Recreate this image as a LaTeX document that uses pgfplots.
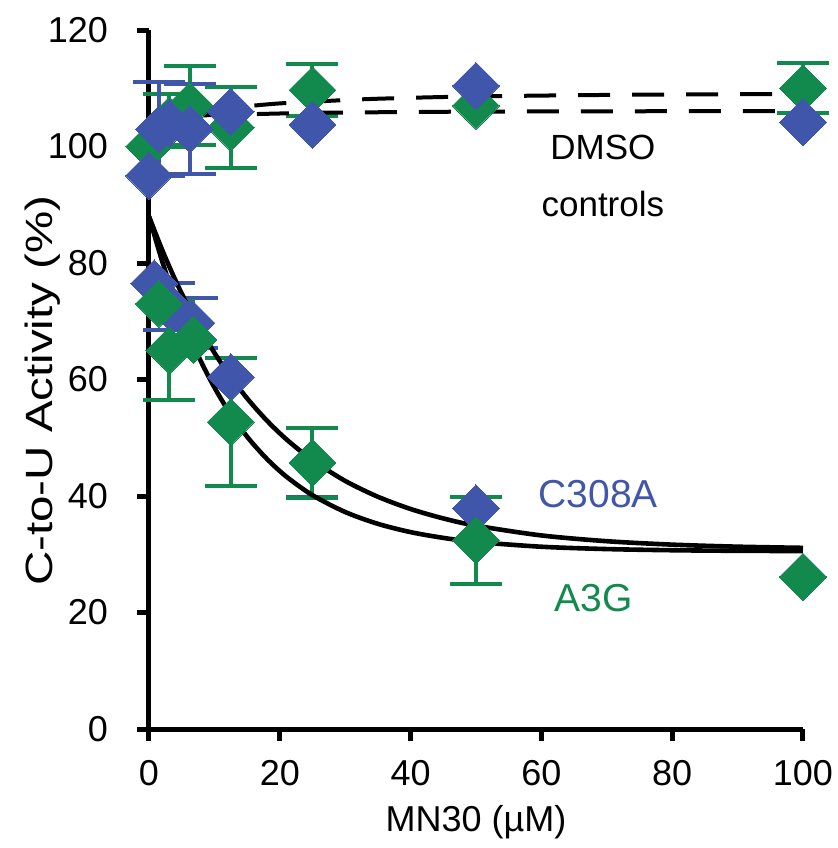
\documentclass[border=0pt]{standalone}
\usepackage{fontspec}
\setmainfont{Liberation Sans}
\usepackage{pgfplots}
\usepackage{pgfplotstable}
\pgfplotsset{compat=1.18}

\definecolor{cblue}{RGB}{64,86,170}
\definecolor{cgreen}{RGB}{18,138,78}

% DMSO controls: x (uM), activity (%), s.d. (rows with a visible s.d. only in *Err)
\pgfplotstableread{
x     y
0     100
1.56  103
3.125 104.5
6.25  107
12.5  103.3
25    109.7
50    107
100   110
}\dmsoGreen
\pgfplotstableread{
x     y      e
3.125 104.5  4.5
6.25  107    6.8
12.5  103.3  7
25    109.7  4.4
100   110    4.3
}\dmsoGreenErr
\pgfplotstableread{
x     y
0     95
1.56  103
3.125 104
6.25  103
12.5  106
25    103.7
50    110.4
100   104.2
}\dmsoBlue
\pgfplotstableread{
x     y      e
1.56  103    8
6.25  103    7.8
}\dmsoBlueErr
% MN30 titration
\pgfplotstableread{
x     y
0.8   76.5
3.125 72.5
6.5   69.7
12.5  60.4
25    45.7
50    37.9
100   26.1
}\mnBlue
\pgfplotstableread{
x     y      e
3.125 72.5   4
6.5   69.7   4.3
25    45.7   5.9
}\mnBlueErr
\pgfplotstableread{
x     y
1.5   73
3.125 65
6.8   66.8
12.5  52.7
25    45.7
50    32.4
100   26.1
}\mnGreen
\pgfplotstableread{
x     y      e
3.125 65     8.5
12.5  52.7   11
25    45.7   6
50    32.4   7.5
}\mnGreenErr

\pgfplotsset{
  diam/.style={only marks, mark=square*, mark size=8.3pt,
    mark options={rotate=45, draw=#1, fill=#1, line width=0pt}},
  ebar/.style={draw=none, mark=none, forget plot,
    error bars/.cd, y dir=both, y explicit,
    error bar style={line width=2pt, #1},
    error mark options={line width=2pt, mark size=13pt, rotate=90, #1}},
}

\begin{document}
\begin{tikzpicture}
\begin{axis}[
  scale only axis, width=327pt, height=349.5pt,
  xmin=0, xmax=100, ymin=0, ymax=120,
  axis lines=left, axis line style={-, line width=2.5pt},
  xtick={0,20,...,100}, ytick={0,20,...,120},
  tick align=outside, major tick length=6pt,
  tick style={line width=2.5pt, black},
  clip=false,
  /pgf/number format/assume math mode=true,
  ticklabel style={font=\fontsize{18}{20}\selectfont},
  yticklabel style={xshift=-11pt},
  xticklabel style={yshift=-6pt},
  xlabel={MN30 (µM)},
  xlabel style={font=\fontsize{18}{20}\selectfont,
    at={(axis description cs:0.5,-0.147)}, anchor=base},
  ylabel={C-to-U Activity (\%)},
  ylabel style={font=\fontsize{19}{21}\selectfont, xscale=1.25,
    at={(axis description cs:-0.148,0.484)}, anchor=base},
]
% DMSO controls
\addplot[ebar=cgreen] table[x=x, y=y, y error=e] {\dmsoGreenErr};
\addplot[diam=cgreen] table[x=x, y=y] {\dmsoGreen};
\addplot[ebar=cblue] table[x=x, y=y, y error=e] {\dmsoBlueErr};
\addplot[diam=cblue] table[x=x, y=y] {\dmsoBlue};
% MN30 series
\addplot[ebar=cblue] table[x=x, y=y, y error=e] {\mnBlueErr};
\addplot[diam=cblue] table[x=x, y=y] {\mnBlue};
\addplot[ebar=cgreen] table[x=x, y=y, y error=e] {\mnGreenErr};
\addplot[diam=cgreen] table[x=x, y=y] {\mnGreen};

% fitted curves
\addplot[black, line width=2.3pt, smooth] coordinates {
(0,88.0) (2,80.35) (4,73.71) (6,67.96) (8,62.97) (10,58.65) (12,54.90)
(15,50.19) (18,46.40) (21,43.33) (25,40.14) (30,37.25) (35,35.22)
(40,33.80) (45,32.81) (50,32.12) (60,31.29) (70,30.89) (80,30.69)
(90,30.59) (100,30.55)};
\addplot[black, line width=2.3pt, smooth] coordinates {
(0,88.0) (2,82.29) (4,77.14) (6,72.51) (8,68.35) (10,64.59) (12,61.22)
(15,56.77) (18,52.98) (21,49.74) (25,46.15) (30,42.59) (35,39.87)
(40,37.77) (45,36.15) (50,34.91) (60,33.23) (70,32.24) (80,31.65)
(90,31.30) (100,31.10)};
\addplot[black, line width=2pt, dash pattern=on 16pt off 11pt, smooth] coordinates {
(0,103.2) (3,104.3) (6,105.2) (10,106.1) (15,106.9) (20,107.4) (25,107.7)
(35,108.2) (50,108.6) (75,108.9) (100,109)};
\addplot[black, line width=2pt, dash pattern=on 16pt off 11pt] coordinates {
(0,105.1) (10,105.4) (25,105.8) (50,106) (100,106.1)};

\node[anchor=base, font=\fontsize{17.5}{20}\selectfont] at (axis cs:69.4,97.7) {DMSO};
\node[anchor=base, font=\fontsize{17.5}{20}\selectfont] at (axis cs:69.4,87.9) {controls};
\node[anchor=base, text=cblue, font=\fontsize{19.5}{22}\selectfont] at (axis cs:68.7,38.1) {C308A};
\node[anchor=base, text=cgreen, font=\fontsize{19.5}{22}\selectfont] at (axis cs:68,20.1) {A3G};

\coordinate (O) at (axis cs:0,0);
\end{axis}
\pgfresetboundingbox
\path[use as bounding box] ([shift={(-74.5pt,-59.5pt)}]O) rectangle ([shift={(344.5pt,364.5pt)}]O);
\end{tikzpicture}
\end{document}
